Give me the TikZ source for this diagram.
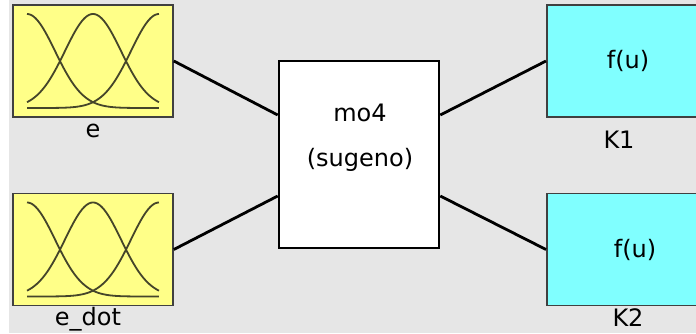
\documentclass[tikz,border=0pt]{standalone}
\usepackage{fontspec}
\setmainfont{DejaVu Sans}
\definecolor{bg}{HTML}{E6E6E6}
\definecolor{yel}{HTML}{FFFF88}
\definecolor{cyn}{HTML}{80FFFF}
\definecolor{curve}{HTML}{45452A}
\definecolor{edge}{HTML}{404040}
\tikzset{
  mfbox/.style={draw=edge, line width=1.6pt, fill=yel, minimum width=160pt, minimum height=112pt, inner sep=0pt},
  fubox/.style={draw=edge, line width=1.6pt, fill=cyn, minimum width=160pt, minimum height=112pt, inner sep=0pt},
  fisbox/.style={draw=black, line width=2.6pt, fill=white, minimum width=160pt, minimum height=187pt, inner sep=0pt},
  lbl/.style={font=\fontsize{24}{27}\selectfont, inner sep=0pt},
  wire/.style={draw=black, line width=2.8pt},
  mf/.style={draw=curve, line width=1.8pt, domain=0:4.7143, samples=80}
}
\begin{document}
\begin{tikzpicture}[x=1pt,y=-1pt]
\useasboundingbox (0,0) rectangle (696,333);
\fill[bg] (0,0) rectangle (696,333);
\fill[white] (0,0) rectangle (9,333);
% boxes
\node[mfbox] (e) at (93,61) {};
\node[mfbox] (edot) at (93,249.5) {};
\node[fisbox] (fis) at (359,154.5) {};
\node[fubox, anchor=west] (k1) at (546,61) {};
\node[fubox, anchor=west] (k2) at (546,249.5) {};
% membership functions
\foreach \cy in {61,249.5}{
  \begin{scope}[shift={(27,\cy+47)}]
    \draw[mf] plot ({28*\x},{-94*exp(-(\x)^2/2)});
    \draw[mf] plot ({28*\x},{-94*exp(-(\x-2.35715)^2/2)});
    \draw[mf] plot ({28*\x},{-94*exp(-(\x-4.7143)^2/2)});
  \end{scope}
}
% texts
\node[lbl] (te) at (93,131) {e};
\node[lbl] (tedot) at (88,319) {e\_dot};
\node[lbl] (tmo) at (360,113) {mo4};
\node[lbl] (tsug) at (360,160) {(sugeno)};
\node[lbl] (tf1) at (628,61) {f(u)};
\node[lbl] (tf2) at (635,250) {f(u)};
\node[lbl] (tk1) at (619,140) {K1};
\node[lbl] (tk2) at (628,318) {K2};
% wires
\draw[wire] (e.east) -- (fis.west |- 0,115);
\draw[wire] (edot.east) -- (fis.west |- 0,196);
\draw[wire] (fis.east |- 0,115) -- (k1.west);
\draw[wire] (fis.east |- 0,196) -- (k2.west);
\end{tikzpicture}
\end{document}
